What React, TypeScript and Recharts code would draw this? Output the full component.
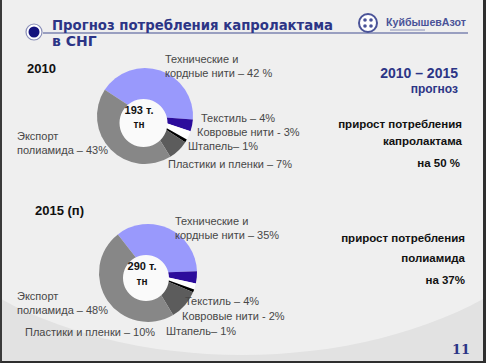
import { PieChart, Pie, Cell } from 'recharts'

// data
const categories = [
  'Технические и кордные нити',
  'Текстиль',
  'Ковровые нити',
  'Штапель',
  'Пластики и пленки',
  'Экспорт полиамида',
]
const share2010 = [42, 4, 3, 1, 7, 43]
const share2015 = [35, 4, 2, 1, 10, 48]
const total2010 = 193
const total2015 = 290
const growthCaprolactam = 50
const growthPolyamide = 37

const sliceColors = ['#9999fc', '#2c0c9c', '#ffffff', '#000000', '#5c5c5c', '#878787']

const data2010 = categories.map((name, i) => ({ name, value: share2010[i] }))
const data2015 = categories.map((name, i) => ({ name, value: share2015[i] }))
const holeData = [{ name: 'hole', value: 1 }]

const labels2010 = [
  ['Технические и', `кордные нити – ${share2010[0]} %`],
  [`Текстиль – ${share2010[1]}%`],
  [`Ковровые нити  - ${share2010[2]}%`],
  [`Штапель– ${share2010[3]}%`],
  [`Пластики и пленки – ${share2010[4]}%`],
  ['Экспорт', `полиамида – ${share2010[5]}%`],
]
const labels2015 = [
  ['Технические и', `кордные нити – ${share2015[0]}%`],
  [`Текстиль – ${share2015[1]}%`],
  [`Ковровые нити  - ${share2015[2]}%`],
  [`Штапель– ${share2015[3]}%`],
  [`Пластики и пленки – ${share2015[4]}%`],
  ['Экспорт', `полиамида – ${share2015[5]}%`],
]

// label anchors: [x, first baseline]
const pos2010 = [[165, 63], [201, 122], [197, 136], [188, 150], [168, 168], [17, 140]]
const pos2015 = [[175, 225], [185, 305], [182, 320], [166, 335], [25, 336], [17, 300]]

const NAVY = '#2c3586'
const LABEL = '#474747'
const FONT = '"Liberation Sans", Arial, sans-serif'

function SliceLabels({ lines, pos }: { lines: string[][]; pos: number[][] }) {
  return (
    <>
      {lines.map((l, i) => (
        <text key={i} x={pos[i][0]} y={pos[i][1]} fontSize={11} fill={LABEL}>
          {l.map((s, j) => (
            <tspan key={j} x={pos[i][0]} dy={j === 0 ? 0 : 13.5}>{s}</tspan>
          ))}
        </text>
      ))}
    </>
  )
}

export default function App() {
  return (
    <div
      style={{
        position: 'absolute', left: 0, top: 0, width: 486, height: 363,
        boxSizing: 'border-box', overflow: 'hidden', background: '#e2e2e2',
        borderLeft: '2px solid #3a3a3a', borderRight: '3px solid #2e2e2e',
        borderBottom: '2px solid #2e2e2e', fontFamily: FONT,
      }}
    >
      <div
        style={{
          position: 'absolute', left: -120, top: -80, width: 720, height: 435,
          borderRadius: '50%', background: '#efefef',
        }}
      />
      <div style={{ position: 'absolute', left: -2, top: 0 }}>
        <PieChart width={486} height={363}>
          <Pie
            data={data2010} dataKey="value" cx={140} cy={111} innerRadius={0} outerRadius={48}
            startAngle={147} endAngle={-213} stroke="none" isAnimationActive={false}
          >
            {data2010.map((d, i) => <Cell key={d.name} fill={sliceColors[i]} />)}
          </Pie>
          <Pie
            data={holeData} dataKey="value" cx={138.5} cy={118} innerRadius={0} outerRadius={24}
            fill="#fafafa" stroke="none" isAnimationActive={false}
          />
          <Pie
            data={data2015} dataKey="value" cx={143} cy={268} innerRadius={0} outerRadius={49}
            startAngle={128} endAngle={-232} stroke="none" isAnimationActive={false}
          >
            {data2015.map((d, i) => <Cell key={d.name} fill={sliceColors[i]} />)}
          </Pie>
          <Pie
            data={holeData} dataKey="value" cx={141} cy={273} innerRadius={0} outerRadius={23}
            fill="#fafafa" stroke="none" isAnimationActive={false}
          />
        </PieChart>
      </div>
      <svg
        width={486} height={363}
        style={{ position: 'absolute', left: -2, top: 0, pointerEvents: 'none', fontFamily: FONT }}
      >
        {/* title */}
        <line x1={43} y1={33} x2={468} y2={33} stroke="#7d84b0" strokeWidth={1.5} />
        <circle cx={34} cy={32} r={8} fill="#ffffff" stroke="#8a8fb8" strokeWidth={1.2} />
        <circle cx={34} cy={32} r={5.5} fill="#14137e" />
        <text x={52} y={30} fontSize={14} fontWeight="bold" fill={NAVY} textLength={281} lengthAdjust="spacingAndGlyphs"
          fontFamily='"DejaVu Sans", Verdana, sans-serif'>
          Прогноз потребления капролактама
        </text>
        <text x={52} y={46} fontSize={14} fontWeight="bold" fill={NAVY}
          fontFamily='"DejaVu Sans", Verdana, sans-serif'>
          в СНГ
        </text>
        {/* logo */}
        <circle cx={368} cy={23} r={9} fill="#ffffff" stroke="#4a5398" strokeWidth={2} />
        <circle cx={365} cy={20} r={1.8} fill="#4a5398" />
        <circle cx={371} cy={20} r={1.8} fill="#4a5398" />
        <circle cx={365} cy={26} r={1.8} fill="#4a5398" />
        <circle cx={371} cy={26} r={1.8} fill="#4a5398" />
        <text x={386} y={26} fontSize={10} fontWeight="bold" fill="#4a5398" textLength={80} lengthAdjust="spacingAndGlyphs">
          КуйбышевАзот
        </text>
        <line x1={390} y1={30} x2={425} y2={30} stroke="#8a90b8" strokeWidth={1} />

        {/* 2010 */}
        <text x={27} y={73} fontSize={13} fontWeight="bold" fill="#111">2010</text>
        <SliceLabels lines={labels2010} pos={pos2010} />
        <text x={139} y={114} fontSize={11} fontWeight="bold" fill="#111" textAnchor="middle">{`${total2010} т.`}</text>
        <text x={139} y={128} fontSize={10} fontWeight="bold" fill="#111" textAnchor="middle">тн</text>

        {/* 2015 */}
        <text x={142} y={270} fontSize={11} fontWeight="bold" fill="#111" textAnchor="middle">{`${total2015} т.`}</text>
        <text x={142} y={285} fontSize={10} fontWeight="bold" fill="#111" textAnchor="middle">тн</text>
        <text x={35} y={215} fontSize={13} fontWeight="bold" fill="#111">2015 (п)</text>
        <SliceLabels lines={labels2015} pos={pos2015} />

        {/* right notes */}
        <text x={458} y={78} fontSize={14} fontWeight="bold" fill={NAVY} textAnchor="end">2010 – 2015</text>
        <text x={458} y={93} fontSize={12} fontWeight="bold" fill={NAVY} textAnchor="end">прогноз</text>
        <text x={462} y={128} fontSize={11.5} fontWeight="bold" fill="#111" textAnchor="end">прирост потребления</text>
        <text x={462} y={145} fontSize={11.5} fontWeight="bold" fill="#111" textAnchor="end">капролактама</text>
        <text x={460} y={167} fontSize={11.5} fontWeight="bold" fill="#111" textAnchor="end">{`на ${growthCaprolactam} %`}</text>
        <text x={465} y={242} fontSize={11.5} fontWeight="bold" fill="#111" textAnchor="end">прирост потребления</text>
        <text x={465} y={262} fontSize={11.5} fontWeight="bold" fill="#111" textAnchor="end">полиамида</text>
        <text x={465} y={284} fontSize={11.5} fontWeight="bold" fill="#111" textAnchor="end">{`на ${growthPolyamide}%`}</text>

        <text x={470} y={354} fontSize={13} fontWeight="bold" fill={NAVY} textAnchor="end"
          fontFamily='"DejaVu Serif", "Liberation Serif", serif'>11</text>
      </svg>
    </div>
  )
}
